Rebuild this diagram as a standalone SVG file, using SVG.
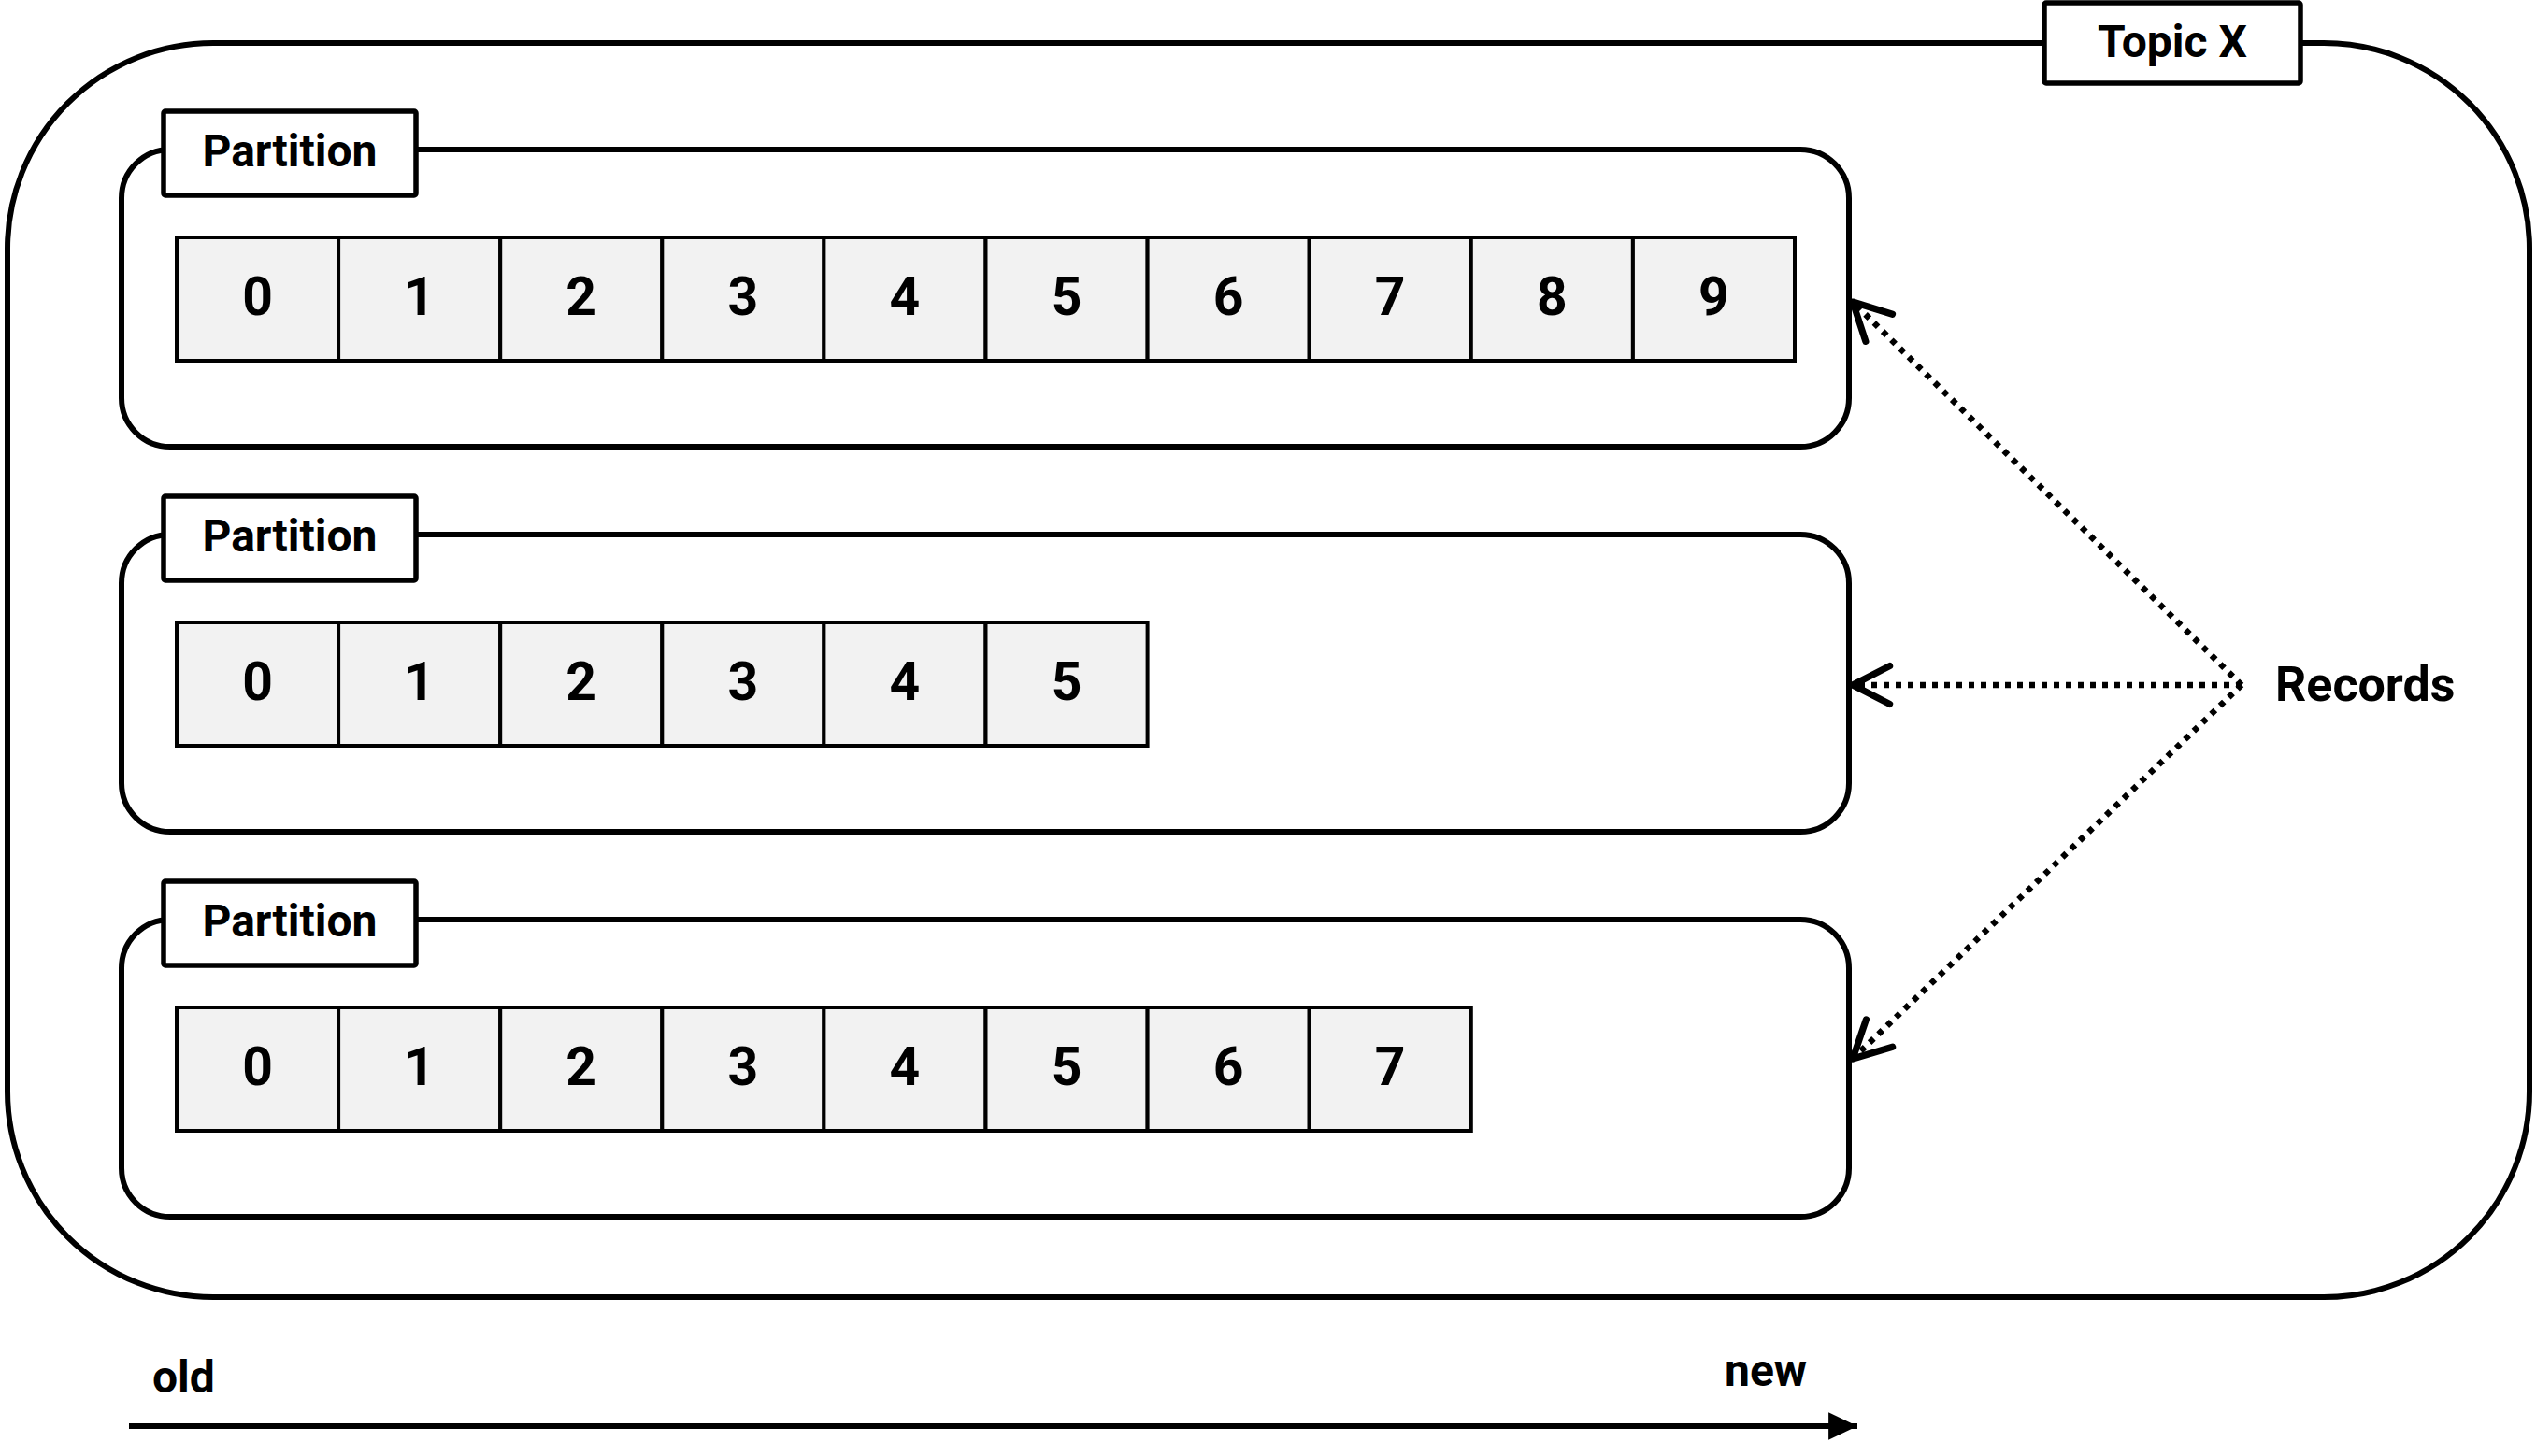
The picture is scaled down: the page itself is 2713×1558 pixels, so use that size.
<svg xmlns="http://www.w3.org/2000/svg" width="2713" height="1558" viewBox="0 0 2713 1558">
  <style>
    .frame { fill: #ffffff; stroke: #000000; stroke-width: 6; }
    .label { fill: #ffffff; stroke: #000000; stroke-width: 5.5; }
    .cell { fill: #f2f2f2; stroke: #000000; stroke-width: 4; }
    .t { font-family: Roboto, "Liberation Sans", Arial, sans-serif; font-weight: bold; fill: #000000; }
    .lbl { font-size: 48px; text-anchor: middle; }
    .num { font-size: 57px; text-anchor: middle; }
    .dots { fill: none; stroke: #000000; stroke-width: 6.5; stroke-dasharray: 6 7; }
    .axis { fill: none; stroke: #000000; stroke-width: 6; }
  </style>
  <defs>
    <marker id="openV" markerUnits="userSpaceOnUse" markerWidth="60" markerHeight="60" viewBox="-40 -25 50 50" refX="0" refY="0" orient="auto">
      <path d="M-33,-17 L0,0 L-33,17" fill="none" stroke="#000000" stroke-width="6" stroke-linecap="round" stroke-linejoin="round" stroke-dasharray="none"/>
    </marker>
    <marker id="solid" markerUnits="userSpaceOnUse" markerWidth="40" markerHeight="40" viewBox="-30 -15 35 30" refX="0" refY="0" orient="auto">
      <path d="M-27,-13 L0,0 L-27,13 Z" fill="#000000" stroke="none"/>
    </marker>
  </defs>

  <g id="topic-x">
    <rect class="frame" x="8" y="46" width="2698" height="1342" rx="220" ry="220"/>
    <rect class="label" x="2187" y="3" width="274" height="86" rx="2"/>
    <text class="t lbl" x="2324" y="61">Topic X</text>
  </g>

  <g id="partition-1">
    <rect class="frame" x="130" y="160" width="1848" height="318" rx="52" ry="52"/>
    <rect class="label" x="175" y="119" width="270" height="90" rx="2"/>
    <text class="t lbl" x="310" y="178">Partition</text>
    <g id="p1-cells">
      <rect class="cell" x="189" y="254" width="173.1" height="132"/>
      <rect class="cell" x="362.1" y="254" width="173.1" height="132"/>
      <rect class="cell" x="535.2" y="254" width="173.1" height="132"/>
      <rect class="cell" x="708.3" y="254" width="173.1" height="132"/>
      <rect class="cell" x="881.4" y="254" width="173.1" height="132"/>
      <rect class="cell" x="1054.5" y="254" width="173.1" height="132"/>
      <rect class="cell" x="1227.6" y="254" width="173.1" height="132"/>
      <rect class="cell" x="1400.7" y="254" width="173.1" height="132"/>
      <rect class="cell" x="1573.8" y="254" width="173.1" height="132"/>
      <rect class="cell" x="1746.9" y="254" width="173.1" height="132"/>
      <text class="t num" x="275.5" y="337">0</text>
      <text class="t num" x="448.6" y="337">1</text>
      <text class="t num" x="621.7" y="337">2</text>
      <text class="t num" x="794.8" y="337">3</text>
      <text class="t num" x="967.9" y="337">4</text>
      <text class="t num" x="1141" y="337">5</text>
      <text class="t num" x="1314.1" y="337">6</text>
      <text class="t num" x="1487.2" y="337">7</text>
      <text class="t num" x="1660.3" y="337">8</text>
      <text class="t num" x="1833.4" y="337">9</text>
    </g>
  </g>

  <g id="partition-2">
    <rect class="frame" x="130" y="572" width="1848" height="318" rx="52" ry="52"/>
    <rect class="label" x="175" y="531" width="270" height="90" rx="2"/>
    <text class="t lbl" x="310" y="590">Partition</text>
    <g id="p2-cells">
      <rect class="cell" x="189" y="666" width="173.1" height="132"/>
      <rect class="cell" x="362.1" y="666" width="173.1" height="132"/>
      <rect class="cell" x="535.2" y="666" width="173.1" height="132"/>
      <rect class="cell" x="708.3" y="666" width="173.1" height="132"/>
      <rect class="cell" x="881.4" y="666" width="173.1" height="132"/>
      <rect class="cell" x="1054.5" y="666" width="173.1" height="132"/>
      <text class="t num" x="275.5" y="749">0</text>
      <text class="t num" x="448.6" y="749">1</text>
      <text class="t num" x="621.7" y="749">2</text>
      <text class="t num" x="794.8" y="749">3</text>
      <text class="t num" x="967.9" y="749">4</text>
      <text class="t num" x="1141" y="749">5</text>
    </g>
  </g>

  <g id="partition-3">
    <rect class="frame" x="130" y="984" width="1848" height="318" rx="52" ry="52"/>
    <rect class="label" x="175" y="943" width="270" height="90" rx="2"/>
    <text class="t lbl" x="310" y="1002">Partition</text>
    <g id="p3-cells">
      <rect class="cell" x="189" y="1078" width="173.1" height="132"/>
      <rect class="cell" x="362.1" y="1078" width="173.1" height="132"/>
      <rect class="cell" x="535.2" y="1078" width="173.1" height="132"/>
      <rect class="cell" x="708.3" y="1078" width="173.1" height="132"/>
      <rect class="cell" x="881.4" y="1078" width="173.1" height="132"/>
      <rect class="cell" x="1054.5" y="1078" width="173.1" height="132"/>
      <rect class="cell" x="1227.6" y="1078" width="173.1" height="132"/>
      <rect class="cell" x="1400.7" y="1078" width="173.1" height="132"/>
      <text class="t num" x="275.5" y="1161">0</text>
      <text class="t num" x="448.6" y="1161">1</text>
      <text class="t num" x="621.7" y="1161">2</text>
      <text class="t num" x="794.8" y="1161">3</text>
      <text class="t num" x="967.9" y="1161">4</text>
      <text class="t num" x="1141" y="1161">5</text>
      <text class="t num" x="1314.1" y="1161">6</text>
      <text class="t num" x="1487.2" y="1161">7</text>
    </g>
  </g>

  <g id="records">
    <text class="t" x="2434" y="750" font-size="52">Records</text>
  </g>

  <g id="connectors">
    <path class="dots" d="M2398,733 L1982,323" marker-end="url(#openV)"/>
    <path class="dots" d="M2398,733 L1982,733" marker-end="url(#openV)"/>
    <path class="dots" d="M2398,733 L1982,1133" marker-end="url(#openV)"/>
  </g>

  <g id="timeline">
    <text class="t" x="163" y="1490" font-size="48">old</text>
    <text class="t" x="1845" y="1483" font-size="48">new</text>
    <path class="axis" d="M138,1526 L1987,1526" marker-end="url(#solid)"/>
  </g>
</svg>
